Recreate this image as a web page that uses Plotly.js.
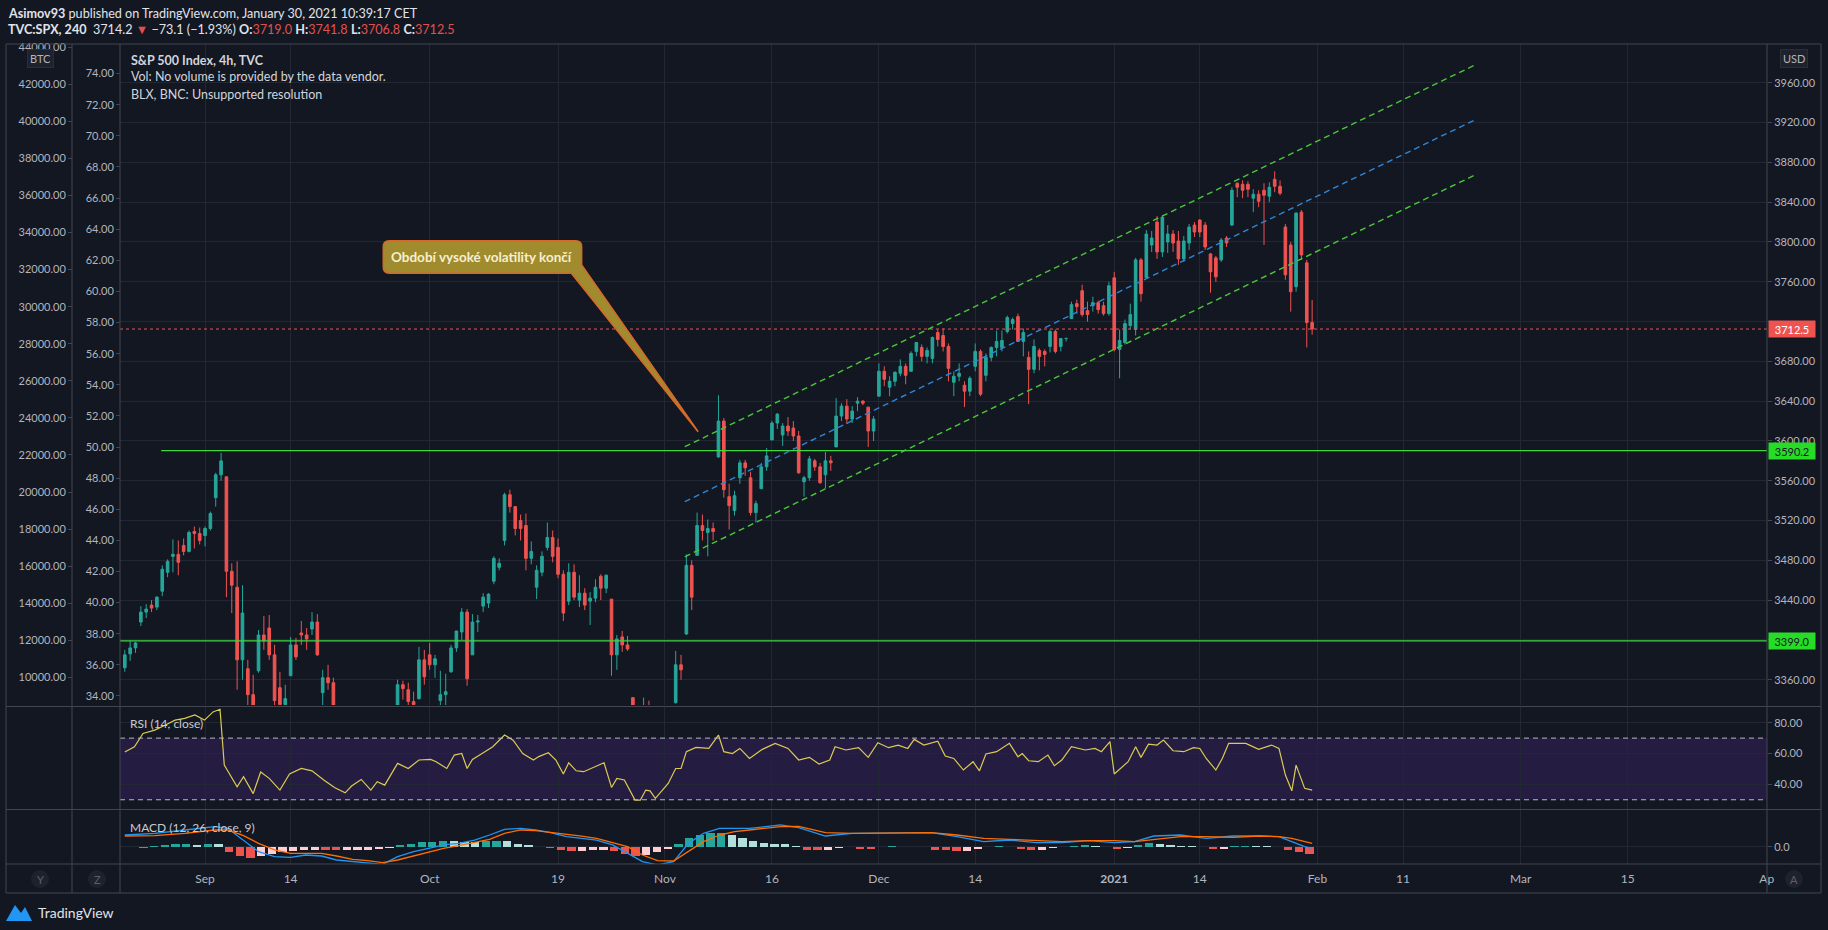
<!DOCTYPE html>
<html><head><meta charset="utf-8">
<script src="https://cdn.plot.ly/plotly-3.0.1.min.js"></script>
<style>html,body{margin:0;padding:0;background:#131722;overflow:hidden}#chart{width:1828px;height:930px}</style>
</head><body><div id="chart"></div>
<script>
// ---- 4h candles, TVC:SPX (bar 0 = 20 Aug 2020 2nd session, last = 29 Jan 2021) ----
const openP=[3372,3386,3392,3418,3428,3435,3433,3449,3468,3484,3486,3495,3489,3509,3507,3505,3512,3543,3566,3564,3469,3453,3380,3371,3345,3369,3405,3412,3385,3352,3335,3364,3395,3407,3405,3411,3418,3347,3362,3357,3315,3285,3255,3295,3305,3321,3290,3226,3250,3236,3270,3333,3355,3350,3338,3341,3380,3385,3375,3339,3345,3368,3392,3408,3428,3385,3418,3434,3437,3459,3473,3500,3546,3534,3520,3515,3482,3453,3468,3493,3503,3493,3466,3439,3468,3440,3447,3439,3442,3464,3452,3441,3385,3403,3395,3342,3290,3277,3330,3293,3260,3296,3315,3337,3375,3406,3475,3485,3515,3508,3512,3584,3620,3544,3530,3563,3578,3563,3528,3552,3574,3601,3618,3606,3615,3613,3605,3559,3563,3580,3574,3566,3580,3594,3625,3635,3622,3638,3640,3634,3610,3645,3670,3654,3660,3668,3675,3670,3690,3694,3685,3683,3709,3706,3695,3659,3665,3656,3650,3675,3690,3666,3684,3694,3694,3710,3718,3725,3700,3684,3672,3691,3690,3695,3710,3695,3703,3723,3738,3751,3731,3736,3739,3736,3728,3764,3692,3699,3716,3712,3782,3764,3797,3820,3790,3800,3808,3801,3783,3799,3817,3822,3817,3788,3784,3782,3804,3817,3859,3858,3858,3844,3848,3852,3846,3863,3856,3815,3797,3755,3830,3779,3719];
const highP=[3390,3399,3398,3434,3436,3440,3444,3475,3481,3501,3500,3502,3510,3514,3513,3514,3529,3568,3588,3564,3477,3479,3455,3380,3365,3410,3424,3425,3395,3368,3355,3403,3402,3419,3412,3428,3426,3370,3375,3362,3330,3286,3285,3320,3318,3323,3295,3260,3279,3275,3306,3360,3359,3357,3348,3393,3390,3397,3385,3369,3366,3395,3409,3432,3431,3426,3425,3447,3447,3484,3482,3548,3551,3534,3526,3527,3499,3475,3489,3518,3510,3502,3470,3477,3476,3465,3452,3448,3461,3466,3466,3441,3405,3409,3404,3342,3298,3342,3339,3305,3285,3331,3325,3389,3385,3486,3480,3528,3526,3521,3518,3646,3623,3557,3550,3581,3581,3569,3540,3578,3593,3620,3628,3618,3624,3620,3610,3565,3585,3582,3578,3589,3585,3643,3638,3642,3635,3644,3641,3634,3625,3678,3675,3665,3670,3682,3678,3690,3699,3697,3694,3705,3712,3713,3698,3670,3678,3660,3665,3698,3692,3688,3695,3711,3711,3726,3724,3728,3713,3690,3702,3693,3692,3712,3712,3703,3704,3740,3742,3757,3740,3745,3741,3740,3760,3770,3712,3722,3738,3784,3784,3812,3811,3826,3826,3817,3812,3811,3806,3818,3820,3823,3820,3789,3786,3804,3806,3855,3860,3862,3861,3853,3852,3859,3860,3871,3862,3818,3800,3830,3832,3782,3741.8];
const lowP=[3368,3379,3387,3414,3422,3428,3430,3444,3463,3468,3465,3485,3488,3492,3496,3494,3510,3534,3560,3443,3427,3350,3360,3329,3328,3367,3390,3380,3329,3310,3325,3364,3380,3395,3390,3405,3384,3328,3350,3305,3293,3230,3240,3271,3295,3285,3232,3209,3230,3228,3265,3332,3340,3328,3330,3340,3355,3370,3362,3323,3330,3367,3388,3400,3354,3385,3408,3428,3432,3456,3470,3495,3528,3505,3500,3470,3476,3441,3464,3490,3478,3462,3419,3435,3440,3433,3430,3415,3438,3440,3447,3364,3370,3388,3389,3280,3268,3260,3300,3240,3234,3290,3279,3336,3360,3405,3430,3485,3500,3484,3500,3583,3543,3511,3525,3557,3565,3525,3518,3552,3570,3601,3612,3595,3605,3600,3567,3544,3560,3570,3557,3552,3570,3594,3620,3617,3618,3630,3636,3594,3600,3645,3655,3645,3655,3665,3657,3670,3685,3680,3678,3678,3695,3690,3660,3645,3660,3634,3645,3670,3645,3660,3680,3685,3690,3708,3712,3700,3685,3637,3668,3671,3675,3689,3688,3690,3700,3723,3728,3725,3720,3730,3728,3726,3726,3690,3663,3697,3712,3706,3740,3764,3790,3783,3785,3789,3790,3777,3780,3792,3805,3805,3792,3749,3760,3780,3795,3816,3845,3844,3845,3830,3835,3797,3840,3850,3847,3762,3730,3750,3782,3694,3706.8];
const closeP=[3385,3392,3397,3428,3431,3432,3443,3471,3479,3486,3478,3489,3508,3507,3500,3512,3527,3566,3580,3469,3455,3380,3427,3345,3332,3405,3399,3385,3339,3335,3341,3395,3383,3405,3401,3418,3385,3362,3357,3315,3320,3255,3281,3305,3316,3290,3237,3250,3246,3270,3298,3355,3351,3338,3335,3380,3363,3375,3381,3345,3348,3392,3409,3428,3361,3418,3419,3443,3446,3482,3477,3546,3534,3512,3512,3482,3489,3470,3484,3503,3484,3466,3427,3468,3443,3447,3435,3442,3453,3452,3465,3385,3401,3395,3391,3290,3271,3330,3310,3260,3270,3315,3310,3375,3370,3475,3443,3515,3510,3512,3509,3620,3551,3535,3545,3578,3573,3528,3537,3574,3585,3618,3627,3615,3610,3605,3568,3563,3582,3574,3558,3580,3578,3625,3635,3622,3630,3640,3638,3610,3622,3670,3662,3660,3669,3675,3666,3688,3699,3685,3691,3704,3702,3695,3673,3665,3668,3650,3663,3690,3647,3684,3694,3700,3701,3724,3722,3700,3709,3672,3695,3685,3687,3710,3690,3703,3703,3737,3735,3727,3727,3739,3732,3728,3756,3692,3701,3718,3727,3782,3748,3808,3804,3790,3825,3808,3799,3783,3801,3815,3810,3810,3795,3770,3765,3802,3799,3852,3855,3852,3853,3848,3841,3847,3855,3856,3849,3767,3750,3829,3787,3719,3712.5];

const rsiX=[0,1.8,3.4,5.6,7.6,9.4,11.2,13.1,14.9,16.5,17.8,18.6,19.2,21,22.2,24,25.4,27,29,30.8,33,35,37.2,39.2,41.2,42.4,44.2,46,47.2,48.6,51,53,55,57.2,58.2,60.2,61.6,63,64,65,66.8,68.8,71,72.6,74.4,76.4,77.4,79.2,80.6,82,83,84.4,85.8,87.8,89.6,91,92,93.4,95.4,96.4,97.4,98.2,99.2,101.6,103,104,105,106.8,109.2,111,112,113.6,115,116.8,119.2,121.6,124,126,128,129.8,131.8,132.8,134.8,137.2,139,140.8,142.8,144.6,146.4,147.6,149.4,152,153.4,155,156.8,158.6,159.8,161,163,165.4,167,167.8,169,170.8,172.6,173.8,175.2,177,179.6,181.4,182.6,184.2,185,187.6,189,190,191.4,193,194.2,196,198,199.8,201,202.2,204,205.2,206.4,209.6,212,214.4,215.8,217,218.2,219,220.6,222];
const rsiY=[61,64.4,73,75.2,78.5,81.7,82.8,85,81.7,87,88.7,52.5,49,38.4,45,34,48,43.9,36.3,46.7,50.3,48.8,42.8,38,34.5,38.9,43.2,36.3,41.7,39.5,53.6,50.3,55.8,56.2,54.7,50.3,59,60,50.3,56.2,60,64.4,72,68.7,60,55.8,58,60.5,55.8,46.7,54,48.8,48.2,51.4,54,38,43.9,42.8,29.8,29.8,36.3,35.8,30.9,40.6,50.3,50.3,61.2,64,63.3,72,61.2,60,63.3,56.8,62.7,66.6,63.3,55.8,57.5,53.2,55.8,64.4,62.3,63.8,57.5,67,63.8,65.5,63.3,69.2,65.5,68,58.4,56.8,49.3,54.7,48.8,59.7,61.2,66.6,57.9,60,55.3,54.7,59,52.1,55.8,64.4,62.3,63.3,61.2,67.7,46.7,54.7,64.4,57.5,66.1,65.5,68.7,61.8,61.2,63.8,63.3,56.8,49.3,56.8,66.6,66.6,62.7,65.5,63.3,46,35.8,52.5,37.4,36.3];

// ---- MACD (12, 26, close, 9) ----
const macdX=[0,5.6,11.2,16.8,19.2,22.2,25,28,31,33.8,36.8,39.6,42.6,45.4,48.2,51,54,56.8,59.6,62.4,65.4,68.2,71,74,76.8,79.6,82.6,85.4,88.2,91.2,94,96.8,99.6,102.6,105.4,108.2,111.2,114,116.8,119.8,122.6,126,131,136,140.8,145.8,150.8,155.6,160.6,165.4,170.4,175.2,180.2,185,188.8,192.4,197.4,202.2,207.2,212,215.8,218.2,220.6,222];
const macdLine=[14.1,16.1,20,23.9,22,8.2,-5.5,-11.4,-12.2,-9.4,-10.6,-15.3,-17.2,-19.2,-20.4,-11.4,-5.5,-1.6,2.4,4.3,8.2,14.1,20.8,22,20,16.9,12.2,10.2,8.2,2.4,-7.5,-17.2,-21.2,-17.2,4.3,16.1,22,22,22,23.9,25.9,22.7,12.9,16.1,16.1,16.9,16.9,12.2,6.3,8.2,5.1,5.1,7.5,5.1,6.3,12.9,14.1,10.2,12.9,12.9,12.2,6.3,0.4,-1.6];
const signalLine=[12.9,13.3,16.1,20,20,13.3,4.3,-3.5,-7.5,-7.5,-7.5,-10.6,-14.5,-16,-18.4,-15.3,-10.6,-5.5,-1.6,1.6,5.1,9,16.1,20,19.2,17.2,15.3,12.9,10.2,5.1,0.4,-9.4,-16,-16.5,-5.5,6.3,14.1,18,20,22,23.9,24.3,16.9,16.1,16.1,16.9,16.9,14.1,10.2,9,7.5,6.3,7.5,7.5,6.3,9,12.2,12.2,11.4,12.9,12.2,10.2,6.3,4.3];
// histogram, one value per trading day (21 Aug 2020 .. 29 Jan 2021)
const macdHist=[0.5,-0.8,1.5,2.5,3,3.2,2.8,3.5,3,-6,-11,-13,-11,-8,-6,-5,-4,-3,-3.5,-4,-4,-3.5,-3,-2.5,-1.5,2,4,5.5,6.3,6.8,6.5,6.2,5.5,6.5,7.5,6.5,4,2,0.5,-1,-3,-4.5,-4.5,-4,-3.5,-5,-8,-11,-9,-6,-2,4,10,14,16,17,14,10,7,5,3.5,3,1,-3,-4,-3,-1,0.5,-2,-2.5,0.5,0.8,0.5,0.3,-0.5,-3,-4,-5,-4.5,-2,0.5,1,0.5,-2,-3,-3,-1.5,0.5,1.5,2,1.5,0.5,-2,-1.5,2,4.5,4,2.5,1.5,1,-0.5,-2.5,-2,0.8,1.5,1.2,1,0.5,-3,-6,-8];

// ---- axis ticks ----
const timeTickBars=[15,31,57,81,101,121,141,159,185,201,223,239,261,281,307];
const timeTickText=['Sep','14','Oct','19','Nov','16','Dec','14','<b>2021</b>','14','Feb','11','Mar','15','Ap'];
const priceTicks=[3360,3400,3440,3480,3520,3560,3600,3640,3680,3720,3760,3800,3840,3880,3920,3960];
const priceTicksCovered=[3400,3720];   // hidden behind the price tags in the reference
const btcTicks=[10000,12000,14000,16000,18000,20000,22000,24000,26000,28000,30000,32000,34000,36000,38000,40000,42000,44000];
const auxTicks=[34,36,38,40,42,44,46,48,50,52,54,56,58,60,62,64,66,68,70,72,74];
const rsiTicks=[40,60,80];

// ---- drawings (bar, price) ----
const levelLines=[3590.2,3399.0];
const lastPrice=3712.5;
const channelStart=104.7, channelEnd=252.4;
const channelUpper=[3594.2,3977.8], channelMid=[3539.0,3922.6], channelLower=[3483.6,3867.2];
const calloutText='Období vysoké volatility končí';

// ---------------------------------------------------------------
const W=1828,H=930;
const X=p=>p/W, Y=p=>1-p/H;
const BG='#131722', GRID='#232734', FRAME='#434651', TXT='#b2b5be', FONT='Lato, "Open Sans", sans-serif';
const UP='#26a69a', DN='#ef5350';
const bars=openP.map((_,i)=>i);
const xRange=[-0.9,307.05];
const histX=macdHist.map((_,i)=>1.5+2*i);
const histCol=macdHist.map((h,i)=>{const p=i?macdHist[i-1]:h;return h>=0?(h>=p?UP:'#b2dfdb'):(h<p?DN:'#ffcdd2');});
const priceTickText=priceTicks.map(v=>priceTicksCovered.includes(v)?'':v.toFixed(2));

const traces=[
 {type:'candlestick',x:bars,open:openP,high:highP,low:lowP,close:closeP,xaxis:'x',yaxis:'y',
  increasing:{line:{color:UP,width:1},fillcolor:UP},decreasing:{line:{color:DN,width:1},fillcolor:DN},
  whiskerwidth:0,hoverinfo:'skip',showlegend:false},
 {type:'scatter',x:[null],y:[null],xaxis:'x',yaxis:'y2',showlegend:false,hoverinfo:'skip'},
 {type:'scatter',x:[null],y:[null],xaxis:'x',yaxis:'y3',showlegend:false,hoverinfo:'skip'},
 {type:'scatter',mode:'lines',x:rsiX,y:rsiY,xaxis:'x2',yaxis:'y4',line:{color:'#dccb52',width:1.2},showlegend:false,hoverinfo:'skip'},
 {type:'bar',x:histX,y:macdHist,width:1.55,marker:{color:histCol,line:{width:0}},xaxis:'x3',yaxis:'y5',showlegend:false,hoverinfo:'skip'},
 {type:'scatter',mode:'lines',x:macdX,y:macdLine,xaxis:'x3',yaxis:'y5',line:{color:'#2196f3',width:1.3},showlegend:false,hoverinfo:'skip'},
 {type:'scatter',mode:'lines',x:macdX,y:signalLine,xaxis:'x3',yaxis:'y5',line:{color:'#ff6d00',width:1.3},showlegend:false,hoverinfo:'skip'}
];

const xBase={domain:[X(120),X(1767)],range:xRange,tickvals:timeTickBars,showgrid:true,gridcolor:GRID,gridwidth:1,zeroline:false,showline:false,fixedrange:true};
const yPrice={domain:[Y(705),Y(44)],range:[3334.6,3999],side:'right',anchor:'x',tickvals:priceTicks,ticktext:priceTickText,
  ticks:'outside',ticklen:4,tickcolor:FRAME,showgrid:true,gridcolor:GRID,zeroline:false,showline:false,tickfont:{size:11,color:TXT}};

const shapes=[];
const L=(x0,y0,x1,y1,c,w,d)=>shapes.push({type:'line',xref:'paper',yref:'paper',x0:X(x0),y0:Y(y0),x1:X(x1),y1:Y(y1),line:{color:c||FRAME,width:w||1,dash:d||'solid'}});
// RSI band
shapes.push({type:'rect',xref:'paper',yref:'y4',x0:X(120),x1:X(1767),y0:30,y1:70,fillcolor:'#251c42',line:{width:0},layer:'below'});
[70,30].forEach(v=>shapes.push({type:'line',xref:'paper',yref:'y4',x0:X(120),x1:X(1767),y0:v,y1:v,line:{color:'#b8b8c0',width:1,dash:'5px,4px'}}));
// last price dotted line
shapes.push({type:'line',xref:'paper',yref:'y',x0:X(120),x1:X(1767),y0:lastPrice,y1:lastPrice,line:{color:DN,width:1,dash:'dot'}});
// horizontal levels
shapes.push({type:'line',xref:'x',yref:'y',x0:6.8,x1:xRange[1],y0:levelLines[0],y1:levelLines[0],line:{color:'#3fd83f',width:1.3}});
shapes.push({type:'line',xref:'x',yref:'y',x0:xRange[0],x1:xRange[1],y0:levelLines[1],y1:levelLines[1],line:{color:'#3fd83f',width:1.3}});
// channel
[[channelUpper,'#4cc63a'],[channelMid,'#2f86d6'],[channelLower,'#4cc63a']].forEach(([c,col])=>
  shapes.push({type:'line',xref:'x',yref:'y',x0:channelStart,x1:channelEnd,y0:c[0],y1:c[1],line:{color:col,width:1.4,dash:'6px,4px'}}));
// callout bubble
shapes.push({type:'path',xref:'x',yref:'y',
  path:'M 49.45 3801.3 L 84.3 3801.3 Q 85.41 3801.3 85.41 3795.3 L 85.41 3777 L 107.2 3609.3 L 83.5 3768.5 L 49.45 3768.5 Q 48.33 3768.5 48.33 3774.5 L 48.33 3795.3 Q 48.33 3801.3 49.45 3801.3 Z',
  fillcolor:'#a08b2e',line:{color:'#d8682a',width:1.6}});
// frame
L(6,44,1821,44);L(6,893,1821,893);L(6,44,6,893);L(1821,44,1821,893);
L(72,44,72,893);L(120,44,120,893);L(1767,44,1767,893);
L(6,706.5,1821,706.5);L(6,809.5,1821,809.5);L(6,864,1821,864);
// Y Z A buttons
[[40,'Y'],[97,'Z'],[1794,'A']].forEach(([cx])=>shapes.push({type:'circle',xref:'paper',yref:'paper',x0:X(cx-9),x1:X(cx+9),y0:Y(888),y1:Y(870),fillcolor:'#1e222d',line:{width:0}}));
// TradingView logo mark
shapes.push({type:'path',xref:'paper',yref:'paper',fillcolor:'#2196f3',line:{width:0},
  path:`M ${X(6)} ${Y(921)} L ${X(15)} ${Y(905)} L ${X(21)} ${Y(913)} L ${X(25)} ${Y(907)} L ${X(32)} ${Y(921)} Z`});

const ann=[];
const A=(x,y,t,o)=>ann.push(Object.assign({xref:'paper',yref:'paper',x:X(x),y:Y(y),text:t,showarrow:false,xanchor:'left',yanchor:'middle',font:{family:FONT,size:12.5,color:'#d1d4dc'}},o||{}));
A(6,13,'<b>Asimov93</b> published on TradingView.com, January 30, 2021 10:39:17 CET',{font:{family:FONT,size:12.6,color:'#e0e3eb'}});
const R=s=>`<span style="color:#e0514e">${s}</span>`;
A(6,30,`<b>TVC:SPX, 240</b>  3714.2 ${R('▼')} −73.1 (−1.93%) <b>O:</b>${R('3719.0')} <b>H:</b>${R('3741.8')} <b>L:</b>${R('3706.8')} <b>C:</b>${R('3712.5')}`,{font:{family:FONT,size:12.6,color:'#e0e3eb'}});
A(129,61,'<b>S&P 500 Index, 4h, TVC</b>',{font:{family:FONT,size:12.5,color:'#d1d4dc'}});
A(129,77,'Vol: No volume is provided by the data vendor.');
A(129,94,'BLX, BNC: Unsupported resolution');
A(128,723,'RSI (14, close)',{font:{family:FONT,size:12,color:'#c8cad0'}});
A(128,827,'MACD (12, 26, close, 9)',{font:{family:FONT,size:12,color:'#c8cad0'}});
A(36,912,'TradingView',{font:{family:FONT,size:14,color:'#e0e3eb'}});
A(40,58,'BTC',{xanchor:'center',bgcolor:'#1e222d',bordercolor:'#2a2e39',borderpad:2,font:{family:FONT,size:11,color:TXT}});
A(1794,58,'USD',{xanchor:'center',bgcolor:'#1e222d',bordercolor:'#2a2e39',borderpad:2,font:{family:FONT,size:11,color:TXT}});
[[40,'Y'],[97,'Z'],[1794,'A']].forEach(([cx,t])=>A(cx,879,t,{xanchor:'center',font:{family:FONT,size:11,color:'#5d606b'}}));
// price tags on the right scale
const tag=(v,bg,fg)=>ann.push({xref:'paper',yref:'y',x:X(1768),y:v,xanchor:'left',yanchor:'middle',text:v.toFixed(1),showarrow:false,
  bgcolor:bg,width:44,height:14,borderpad:1,font:{family:FONT,size:11,color:fg}});
tag(lastPrice,'#ef5350','#ffffff');tag(levelLines[0],'#27dc27','#131722');tag(levelLines[1],'#27dc27','#131722');
// callout text
ann.push({xref:'x',yref:'y',x:66.87,y:3785,text:'<b>'+calloutText+'</b>',showarrow:false,font:{family:FONT,size:13.5,color:'#f6efcf'}});

const layout={width:W,height:H,margin:{l:0,r:0,t:0,b:0},paper_bgcolor:BG,plot_bgcolor:BG,showlegend:false,
  font:{family:FONT,color:TXT,size:11},bargap:0,
  xaxis:Object.assign({},xBase,{anchor:'y',showticklabels:false,rangeslider:{visible:false}}),
  xaxis2:Object.assign({},xBase,{anchor:'y4',showticklabels:false}),
  xaxis3:Object.assign({},xBase,{anchor:'y5',showticklabels:true,ticktext:timeTickText,ticks:'',ticklabelstandoff:6,tickfont:{family:FONT,size:12,color:TXT}}),
  yaxis:yPrice,
  yaxis2:{overlaying:'y',side:'left',anchor:'free',position:X(72),range:[8511,44174],tickvals:btcTicks,tickformat:'.2f',ticks:'outside',ticklen:4,tickcolor:FRAME,showgrid:false,zeroline:false,showline:false,tickfont:{size:11,color:TXT}},
  yaxis3:{overlaying:'y',side:'left',anchor:'free',position:X(120),range:[33.42,75.9],tickvals:auxTicks,tickformat:'.2f',ticks:'outside',ticklen:4,tickcolor:FRAME,showgrid:false,zeroline:false,showline:false,tickfont:{size:11,color:TXT}},
  yaxis4:{domain:[Y(809),Y(707)],anchor:'x2',side:'right',range:[24,90.2],tickvals:rsiTicks,tickformat:'.2f',ticks:'outside',ticklen:4,tickcolor:FRAME,showgrid:true,gridcolor:GRID,zeroline:false,showline:false,tickfont:{size:11,color:TXT}},
  yaxis5:{domain:[Y(864),Y(810)],anchor:'x3',side:'right',range:[-20,43.5],tickvals:[0],ticktext:['0.0'],ticks:'outside',ticklen:4,tickcolor:FRAME,showgrid:true,gridcolor:GRID,zeroline:false,showline:false,tickfont:{size:11,color:TXT}},
  shapes:shapes,annotations:ann};

Plotly.newPlot('chart',traces,layout,{staticPlot:true,displayModeBar:false});
</script></body></html>
